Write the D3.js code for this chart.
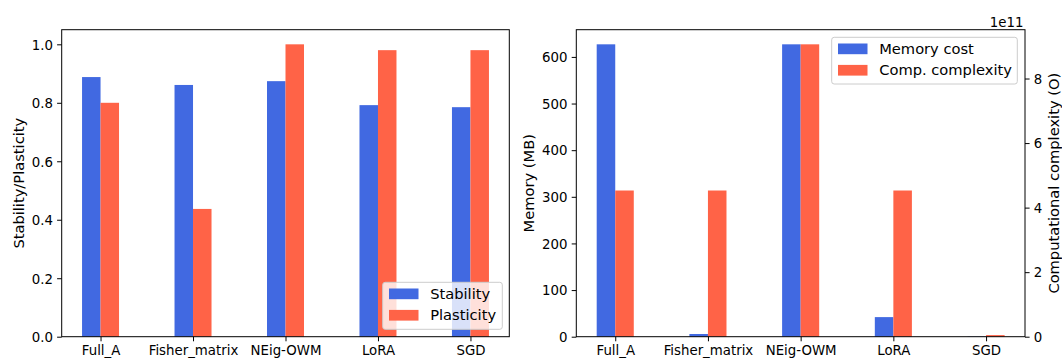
<!DOCTYPE html>
<html>
<head>
<meta charset="utf-8">
<script src="https://cdn.jsdelivr.net/npm/d3@7"></script>
<style>
  html, body { margin: 0; padding: 0; background: #fff; }
  svg { display: block; }
  text { font-family: "DejaVu Sans", sans-serif; fill: #000; }
</style>
</head>
<body>
<svg id="chart" width="1062" height="360"></svg>
<script>
// ---------------- data ----------------
const categories = ["Full_A", "Fisher_matrix", "NEig-OWM", "LoRA", "SGD"];
const stability  = [0.888, 0.861, 0.874, 0.792, 0.785];
const plasticity = [0.80, 0.437, 1.0, 0.98, 0.98];
const memoryMB   = [627, 5.8, 627, 42, 0.5];
const compOps    = [4.53e11, 4.53e11, 9.06e11, 4.53e11, 5e9];
const leftTicks  = [0, 0.2, 0.4, 0.6, 0.8, 1.0];
const memTicks   = [0, 100, 200, 300, 400, 500, 600];
const compTicks  = [0, 2e11, 4e11, 6e11, 8e11];

// ---------------- style ----------------
const BLUE = "#4169E1", RED = "#FF6347";
const FS_TICK = 13.33;
const FS_LABEL = 14.67;
const svg = d3.select("#chart");
const plotTop = 29.7, plotBottom = 336.7;
const barW = 0.2;

function xScale(x0, x1) {
  return d3.scaleLinear().domain([-0.42, categories.length - 1 + 0.42]).range([x0, x1]);
}

function styleAxis(g) {
  g.selectAll("path.domain").remove();
  g.selectAll(".tick line").attr("stroke", "#000").attr("stroke-width", 1);
  g.selectAll(".tick text").attr("font-size", FS_TICK).attr("fill", "#000")
    .attr("font-family", "DejaVu Sans, sans-serif");
}

function drawFrame(x0, x1) {
  svg.append("rect").attr("x", x0).attr("y", plotTop)
    .attr("width", x1 - x0).attr("height", plotBottom - plotTop)
    .attr("fill", "none").attr("stroke", "#000").attr("stroke-width", 1);
}

function drawBars(x, y, values, color, offset) {
  svg.append("g").selectAll("rect").data(values).join("rect")
    .attr("x", (d, i) => x(i + offset))
    .attr("width", (d, i) => x(i + offset + barW) - x(i + offset))
    .attr("y", d => y(d))
    .attr("height", d => y(0) - y(d))
    .attr("fill", color);
}

function drawXAxis(x) {
  const g = svg.append("g").attr("transform", `translate(0,${plotBottom})`)
    .call(d3.axisBottom(x).tickValues(d3.range(categories.length))
      .tickFormat(i => categories[i]).tickSize(4.6).tickPadding(4.2));
  styleAxis(g);
}

function drawLegend(bx, by, bw, bh, items) {
  const g = svg.append("g");
  g.append("rect").attr("x", bx).attr("y", by).attr("width", bw).attr("height", bh)
    .attr("rx", 2.5).attr("fill", "#fff").attr("fill-opacity", 0.8)
    .attr("stroke", "#cccccc").attr("stroke-width", 1);
  items.forEach((it, i) => {
    const cy = by + 11.5 + i * 21.4;
    g.append("rect").attr("x", bx + 6.3).attr("y", cy - 5.3)
      .attr("width", 29.5).attr("height", 10.7).attr("fill", it.color);
    g.append("text").attr("x", bx + 47.5).attr("y", cy).attr("dy", "0.36em")
      .attr("font-size", FS_LABEL).text(it.label);
  });
}

// ---------------- left chart ----------------
{
  const x0 = 61.7, x1 = 509.3;
  const x = xScale(x0, x1);
  const y = d3.scaleLinear().domain([0, 1.05]).range([plotBottom, plotTop]);
  drawBars(x, y, stability, BLUE, -barW);
  drawBars(x, y, plasticity, RED, 0);
  const gy = svg.append("g").attr("transform", `translate(${x0},0)`)
    .call(d3.axisLeft(y).tickValues(leftTicks).tickFormat(d3.format(".1f"))
      .tickSize(4.6).tickPadding(4.2));
  styleAxis(gy);
  gy.selectAll(".tick text").attr("dy", "0.36em");
  drawXAxis(x);
  drawFrame(x0, x1);
  svg.append("text").attr("transform", `translate(23.5,${(plotTop + plotBottom) / 2}) rotate(-90)`)
    .attr("text-anchor", "middle").attr("font-size", FS_LABEL).text("Stability/Plasticity");
  drawLegend(382.7, 282.3, 119.6, 47, [
    { label: "Stability", color: BLUE },
    { label: "Plasticity", color: RED }
  ]);
}

// ---------------- right chart ----------------
{
  const x0 = 576.3, x1 = 1025;
  const x = xScale(x0, x1);
  const yM = d3.scaleLinear().domain([0, d3.max(memoryMB) * 1.05]).range([plotBottom, plotTop]);
  const yC = d3.scaleLinear().domain([0, d3.max(compOps) * 1.05]).range([plotBottom, plotTop]);
  drawBars(x, yM, memoryMB, BLUE, -barW);
  drawBars(x, yC, compOps, RED, 0);
  const gl = svg.append("g").attr("transform", `translate(${x0},0)`)
    .call(d3.axisLeft(yM).tickValues(memTicks).tickFormat(d3.format("d"))
      .tickSize(4.6).tickPadding(4.2));
  styleAxis(gl);
  gl.selectAll(".tick text").attr("dy", "0.36em");
  const gr = svg.append("g").attr("transform", `translate(${x1},0)`)
    .call(d3.axisRight(yC).tickValues(compTicks).tickFormat(d => String(d / 1e11))
      .tickSize(4.6).tickPadding(4.2));
  styleAxis(gr);
  gr.selectAll(".tick text").attr("dy", "0.36em");
  drawXAxis(x);
  drawFrame(x0, x1);
  svg.append("text").attr("x", x1 - 1.5).attr("y", 26.6).attr("text-anchor", "end")
    .attr("font-size", FS_TICK).text("1e11");
  svg.append("text").attr("transform", `translate(534,${(plotTop + plotBottom) / 2}) rotate(-90)`)
    .attr("text-anchor", "middle").attr("font-size", FS_LABEL).text("Memory (MB)");
  svg.append("text").attr("transform", `translate(1058.5,${(plotTop + plotBottom) / 2}) rotate(-90)`)
    .attr("text-anchor", "middle").attr("font-size", FS_LABEL).text("Computational complexity (O)");
  drawLegend(831.7, 37.3, 185.6, 46.7, [
    { label: "Memory cost", color: BLUE },
    { label: "Comp. complexity", color: RED }
  ]);
}
</script>
</body>
</html>
